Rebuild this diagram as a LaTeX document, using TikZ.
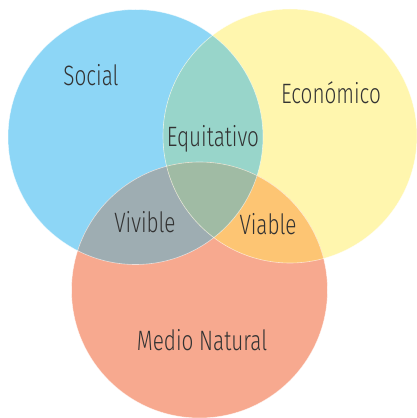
\documentclass[tikz,border=0pt]{standalone}
\usepackage{fontspec}
\setmainfont{Fira Sans}[UprightFont={* Light},FakeStretch=0.74]
\begin{document}
\begin{tikzpicture}[x=1pt,y=1pt,
  lbl/.style={font=\fontsize{28}{30}\selectfont, text=black!80, anchor=base, inner sep=0pt},
  rim/.style={draw=white, draw opacity=0.6, line width=0.6pt}]
\definecolor{cblue}{HTML}{8DD6F6}
\definecolor{cyel}{HTML}{FFF6AE}
\definecolor{cred}{HTML}{F7A98F}
\definecolor{cby}{HTML}{98D5CA}
\definecolor{cbr}{HTML}{9EADB2}
\definecolor{cyr}{HTML}{FDC573}
\definecolor{call}{HTML}{A0BBA4}
\useasboundingbox (0,0) rectangle (417,418);
\def\blue{(135.5,281) circle (127.5)}
\def\yel{(290,282) circle (127)}
\def\red{(199.5,128) circle (128)}
\fill[cblue] \blue;
\fill[cyel] \yel;
\fill[cred] \red;
\begin{scope}\clip \blue; \fill[cby] \yel; \end{scope}
\begin{scope}\clip \blue; \fill[cbr] \red; \end{scope}
\begin{scope}\clip \yel; \fill[cyr] \red; \end{scope}
\begin{scope}\clip \blue; \clip \yel; \fill[call] \red; \end{scope}
\draw[rim] \blue;
\draw[rim] \yel;
\draw[rim] \red;
\node[lbl] (social) at (91,332) {Social};
\node[lbl] (eco) at (331,314) {Económico};
\node[lbl] (equi) at (213,271) {Equitativo};
\node[lbl] (viv) at (145,185) {Vivible};
\node[lbl] (via) at (268,183) {Viable};
\node[lbl] (medio) at (202,67) {Medio Natural};
\end{tikzpicture}
\end{document}
